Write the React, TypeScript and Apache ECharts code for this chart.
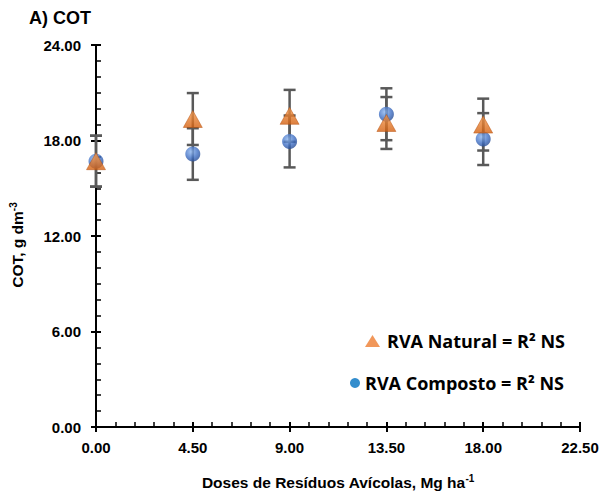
import React, { useEffect, useRef } from "react";
import * as echarts from "echarts";

const doses = [0, 4.5, 9, 13.5, 18];
const naturalValues = [16.7, 19.35, 19.55, 19.1, 19.0];
const naturalErrors = [1.6, 1.63, 1.63, 1.63, 1.63];
const compostoValues = [16.7, 17.15, 17.94, 19.65, 18.09];
const compostoErrors = [1.6, 1.62, 1.63, 1.63, 1.63];
const naturalName = "RVA Natural = R² NS";
const compostoName = "RVA Composto = R² NS";

const errorBar = (params: any, api: any) => {
  const x = api.value(0);
  const y = api.value(1);
  const e = api.value(2);
  const top = api.coord([x, y + e]);
  const bot = api.coord([x, y - e]);
  const w = 6;
  const style = { stroke: "#595959", lineWidth: 2.5 };
  return {
    type: "group",
    children: [
      { type: "line", shape: { x1: top[0], y1: top[1], x2: bot[0], y2: bot[1] }, style },
      { type: "line", shape: { x1: top[0] - w, y1: top[1], x2: top[0] + w, y2: top[1] }, style },
      { type: "line", shape: { x1: bot[0] - w, y1: bot[1], x2: bot[0] + w, y2: bot[1] }, style },
    ],
  };
};

export default function App() {
  const ref = useRef<HTMLDivElement>(null);
  useEffect(() => {
    if (!ref.current) return;
    const chart = echarts.init(ref.current, undefined, { renderer: "svg" });
    const font = "Arial, 'Liberation Sans', sans-serif";
    const legendFont = "'Open Sans', 'Noto Sans', sans-serif";
    const axisCommon = {
      axisLine: { show: true, onZero: false, lineStyle: { color: "#000", width: 2 } },
      splitLine: { show: false },
    };
    const option: any = {
      animation: false,
      backgroundColor: "#fff",
      title: {
        text: "A) COT",
        left: 24,
        top: 4,
        textStyle: { fontFamily: font, fontWeight: "bold", fontSize: 18, color: "#000" },
      },
      grid: { left: 96, right: 20, top: 45, bottom: 70, outerBoundsMode: "none" },
      xAxis: [
        {
          type: "value",
          min: 0,
          max: 22.5,
          interval: 4.5,
          position: "bottom",
          ...axisCommon,
          axisTick: { show: true, inside: false, length: 5, lineStyle: { color: "#000", width: 2 } },
          axisLabel: {
            formatter: (v: number) => v.toFixed(2),
            fontFamily: font,
            fontWeight: "bold",
            fontSize: 15,
            color: "#000",
            margin: 13,
            showMaxLabel: true,
          },
          name: "{a|Doses de Resíduos Avícolas, Mg ha}{s|-1}",
          nameLocation: "middle",
          nameGap: 46,
          nameMoveOverlap: false,
          nameTextStyle: {
            rich: {
              a: { fontFamily: font, fontWeight: "bold", fontSize: 15.5, color: "#000" },
              s: { fontFamily: font, fontWeight: "bold", fontSize: 10, color: "#000", padding: [0, 0, 8, 0] },
            },
          },
        },
        {
          type: "value",
          min: 0,
          max: 22.5,
          interval: 4.5,
          position: "bottom",
          axisLine: { show: false, onZero: false },
          splitLine: { show: false },
          axisLabel: { show: false },
          axisTick: { show: true, inside: true, length: 5, lineStyle: { color: "#000", width: 2 } },
          minorTick: { show: true, splitNumber: 5, length: 5, lineStyle: { color: "#000", width: 1.5 } },
        },
      ],
      yAxis: [
        {
          type: "value",
          min: 0,
          max: 24,
          interval: 6,
          position: "left",
          ...axisCommon,
          axisTick: { show: true, inside: false, length: 5, lineStyle: { color: "#000", width: 2 } },
          axisLabel: {
            formatter: (v: number) => v.toFixed(2),
            fontFamily: font,
            fontWeight: "bold",
            fontSize: 15,
            color: "#000",
            margin: 15,
          },
          name: "{a|COT, g dm}{s|-3}",
          nameLocation: "middle",
          nameGap: 70,
          nameMoveOverlap: false,
          nameTextStyle: {
            rich: {
              a: { fontFamily: font, fontWeight: "bold", fontSize: 15.5, color: "#000" },
              s: { fontFamily: font, fontWeight: "bold", fontSize: 10, color: "#000", padding: [0, 18, 8, 0] },
            },
          },
        },
        {
          type: "value",
          min: 0,
          max: 24,
          interval: 6,
          position: "left",
          axisLine: { show: false, onZero: false },
          splitLine: { show: false },
          axisLabel: { show: false },
          axisTick: { show: true, inside: true, length: 5, lineStyle: { color: "#000", width: 2 } },
          minorTick: { show: true, splitNumber: 6, length: 5, lineStyle: { color: "#000", width: 1.5 } },
        },
      ],
      legend: [
        {
          data: [{ name: naturalName, icon: "triangle", itemStyle: { color: "#ED7D31", borderWidth: 0 } }],
          left: 360,
          top: 327,
          itemWidth: 15,
          itemHeight: 12,
          itemGap: 0,
          formatter: (n: string) => `{t|${n}}`,
          textStyle: {
            rich: { t: { fontFamily: legendFont, fontWeight: "bold", fontSize: 18, color: "#000", padding: [0, 0, 0, 2] } },
          },
          selectedMode: false,
        },
        {
          data: [{ name: compostoName, icon: "circle", itemStyle: { color: "#0070C0", borderWidth: 0 } }],
          left: 345,
          top: 369,
          itemWidth: 10,
          itemHeight: 10,
          itemGap: 0,
          formatter: (n: string) => `{t|${n}}`,
          textStyle: {
            rich: { t: { fontFamily: legendFont, fontWeight: "bold", fontSize: 18, color: "#000", padding: [0, 0, 0, 0] } },
          },
          selectedMode: false,
        },
      ],
      series: [
        {
          type: "custom",
          name: "errN",
          xAxisIndex: 0,
          yAxisIndex: 0,
          renderItem: errorBar,
          data: doses.map((d, i) => [d, naturalValues[i], naturalErrors[i]]),
          encode: { x: 0, y: 1 },
          z: 1,
        },
        {
          type: "custom",
          name: "errC",
          xAxisIndex: 0,
          yAxisIndex: 0,
          renderItem: errorBar,
          data: doses.map((d, i) => [d, compostoValues[i], compostoErrors[i]]),
          encode: { x: 0, y: 1 },
          z: 1,
        },
        {
          type: "scatter",
          name: compostoName,
          xAxisIndex: 0,
          yAxisIndex: 0,
          symbol: "circle",
          symbolSize: 15,
          data: doses.map((d, i) => [d, compostoValues[i]]),
          itemStyle: {
            color: {
              type: "radial",
              x: 0.4,
              y: 0.35,
              r: 0.7,
              colorStops: [
                { offset: 0, color: "#8DB6F0" },
                { offset: 0.6, color: "#3F6FC4" },
                { offset: 1, color: "#24488F" },
              ],
            },
          },
          z: 3,
        },
        {
          type: "scatter",
          name: naturalName,
          xAxisIndex: 0,
          yAxisIndex: 0,
          symbol: "triangle",
          symbolSize: [19, 17],
          data: doses.map((d, i) => [d, naturalValues[i]]),
          itemStyle: {
            color: {
              type: "linear",
              x: 0,
              y: 0,
              x2: 0,
              y2: 1,
              colorStops: [
                { offset: 0, color: "#F59A4E" },
                { offset: 1, color: "#D4600F" },
              ],
            },
            borderColor: "#B8500C",
            borderWidth: 0.6,
          },
          z: 4,
        },
      ],
    };
    chart.setOption(option);
    return () => chart.dispose();
  }, []);
  return <div ref={ref} style={{ width: 600, height: 497, position: "absolute", left: 0, top: 0 }} />;
}
